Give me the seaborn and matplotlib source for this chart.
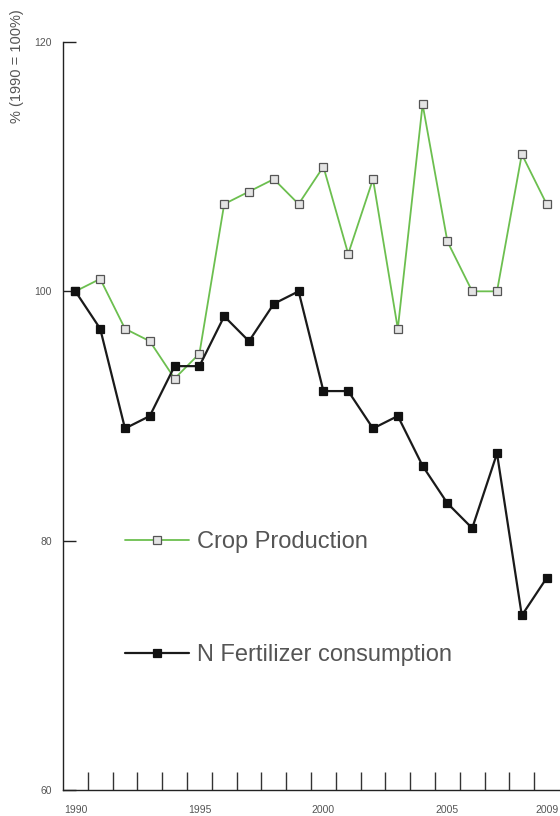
import pandas as pd
import seaborn as sns
import matplotlib.pyplot as plt
from matplotlib.ticker import FixedLocator

years = list(range(1990, 2010))
crop = [100, 101, 97, 96, 93, 95, 107, 108, 109, 107, 110, 103, 109, 97, 115, 104, 100, 100, 111, 107]
fert = [100, 97, 89, 90, 94, 94, 98, 96, 99, 100, 92, 92, 89, 90, 86, 83, 81, 87, 74, 77]
year_labels = [1990, 1995, 2000, 2005, 2009]
y_ticks = [60, 80, 100, 120]

sns.set_style("white")
plt.rcParams['font.family'] = ['Liberation Sans', 'DejaVu Sans']

df = pd.DataFrame({'year': years, 'crop': crop, 'fert': fert})

fig = plt.figure(figsize=(5.6, 8.16), dpi=100)
ax = fig.add_axes([63 / 560, 26 / 816, 497 / 560, 748 / 816])

# crop production (green, light squares)
sns.lineplot(x='year', y='crop', data=df, ax=ax, color='#6cbf4f', lw=1.3,
             marker='s', markersize=5.5, markerfacecolor='#e4e4e4',
             markeredgecolor='#555555', markeredgewidth=0.9,
             label='Crop Production')
# N fertilizer (black squares)
sns.lineplot(x='year', y='fert', data=df, ax=ax, color='#1a1a1a', lw=1.6,
             marker='s', markersize=5.5, markerfacecolor='#111111',
             markeredgecolor='#111111', markeredgewidth=0.9,
             label='N Fertilizer consumption')

ax.set_xlim(1989.5, 2009.54)
ax.set_ylim(60, 120)
ax.set_xlabel('')
ax.set_ylabel('')

sns.despine(ax=ax, top=True, right=True)
for s in ['left', 'bottom']:
    ax.spines[s].set_color('#222222')
    ax.spines[s].set_linewidth(1.0)

ax.set_yticks(y_ticks)
ax.tick_params(axis='y', direction='in', length=9, width=1, color='#222222',
               labelsize=7.5, labelcolor='#555555', pad=8, left=True)
ax.set_xticks(year_labels)
ax.set_xticklabels([str(y) for y in year_labels])
ax.xaxis.set_minor_locator(FixedLocator([y + 0.5 for y in years[:-1]]))
ax.tick_params(axis='x', which='major', length=0, labelsize=7.5,
               labelcolor='#555555', pad=11)
ax.tick_params(axis='x', which='minor', direction='in', length=13, width=1,
               color='#333333', bottom=True)

fig.text(17 / 560, 1 - 66 / 816, '% (1990 = 100%)', rotation=90, ha='center',
         va='center', fontsize=10.5, color='#555555')

leg = ax.legend(frameon=False, fontsize=17, handlelength=2.7, handletextpad=0.35,
                labelspacing=3.85, loc='upper left', borderpad=0, borderaxespad=0,
                bbox_to_anchor=(125 / 560, 1 - 531 / 816), bbox_transform=fig.transFigure)
for t in leg.get_texts():
    t.set_color('#555555')

fig.savefig('out.png', dpi=100)
